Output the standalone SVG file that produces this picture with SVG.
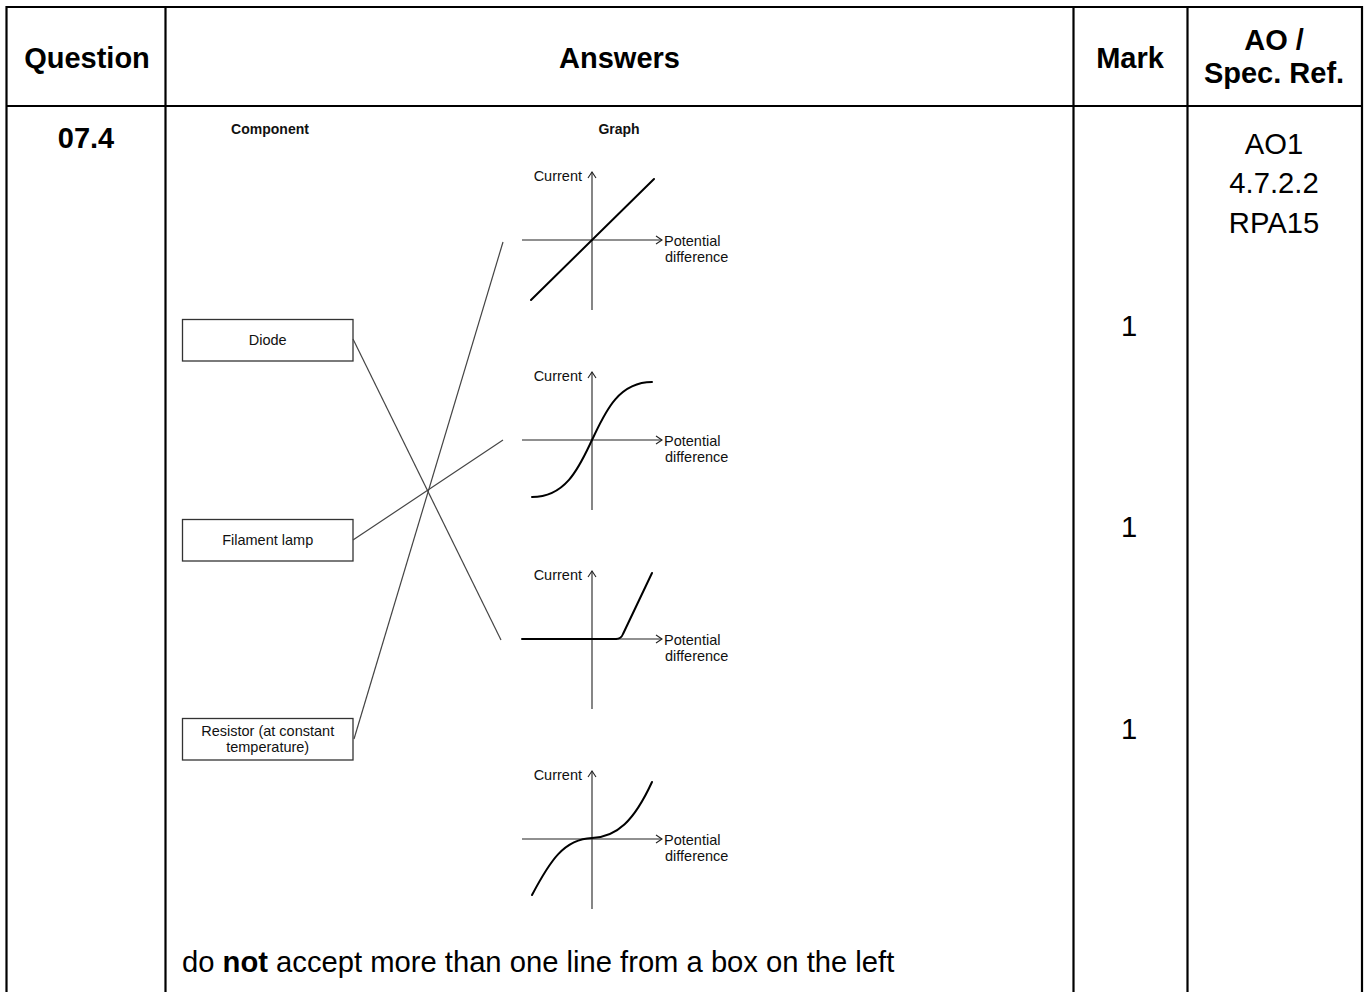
<svg xmlns="http://www.w3.org/2000/svg" width="1367" height="992" viewBox="0 0 1367 992">
<defs>
<style>
.grid{stroke:#000;stroke-width:2.2;fill:none}
.hd{font-family:"Liberation Sans",Arial,sans-serif;font-weight:bold;font-size:29px;fill:#000;text-anchor:middle}
.tx{font-family:"Liberation Sans",Arial,sans-serif;font-size:29.2px;fill:#000}
.sm{font-family:"Liberation Sans",Arial,sans-serif;font-size:14.5px;fill:#111}
.smb{font-family:"Liberation Sans",Arial,sans-serif;font-size:14px;font-weight:bold;fill:#111;text-anchor:middle}
.box{fill:#fff;stroke:#333;stroke-width:1.3}
.axis{stroke:#222;stroke-width:1.1;fill:none}
.curve{stroke:#000;stroke-width:2;fill:none;stroke-linecap:round}
.conn{stroke:#444;stroke-width:1.2;fill:none}
</style>
<g id="axes">
<line class="axis" x1="0" y1="70" x2="0" y2="-68"/>
<polyline class="axis" points="-4,-62 0,-68 4,-62"/>
<line class="axis" x1="-70" y1="0" x2="70" y2="0"/>
<polyline class="axis" points="64,-4 70,0 64,4"/>
<text class="sm" x="-10" y="-59" text-anchor="end">Current</text>
<text class="sm" x="72" y="6">Potential</text>
<text class="sm" x="73" y="22">difference</text>
</g>
</defs>
<rect width="1367" height="992" fill="#fff"/>
<g id="table">
<path class="grid" d="M6.5 992 V7 H1362 V992 M6.5 106 H1362 M165.5 7 V992 M1073.5 7 V992 M1187.5 7 V992"/>
<text class="hd" x="87" y="68">Question</text>
<text class="hd" x="619.5" y="68">Answers</text>
<text class="hd" x="1130" y="68">Mark</text>
<text class="hd" x="1274" y="50">AO /</text>
<text class="hd" x="1274" y="83">Spec. Ref.</text>
<text class="hd" x="86" y="148">07.4</text>
<text class="tx" x="1274" y="154" text-anchor="middle">AO1</text>
<text class="tx" x="1274" y="193" text-anchor="middle">4.7.2.2</text>
<text class="tx" x="1274" y="233" text-anchor="middle">RPA15</text>
<text class="tx" x="1129" y="336" text-anchor="middle">1</text>
<text class="tx" x="1129" y="537" text-anchor="middle">1</text>
<text class="tx" x="1129" y="739" text-anchor="middle">1</text>
<text class="tx" x="182" y="972">do <tspan font-weight="bold">not</tspan> accept more than one line from a box on the left</text>
</g>
<g id="headings">
<text class="smb" x="270" y="134">Component</text>
<text class="smb" x="619" y="134">Graph</text>
</g>
<g id="diode">
<rect class="box" x="182.5" y="319.5" width="170.5" height="41.5"/>
<text class="sm" x="267.7" y="345" text-anchor="middle">Diode</text>
</g>
<g id="filament">
<rect class="box" x="182.5" y="519.5" width="170.5" height="41.5"/>
<text class="sm" x="267.7" y="545" text-anchor="middle">Filament lamp</text>
</g>
<g id="resistor">
<rect class="box" x="182.5" y="718.5" width="170.5" height="41.5"/>
<text class="sm" x="267.7" y="736" text-anchor="middle">Resistor (at constant</text>
<text class="sm" x="267.7" y="752" text-anchor="middle">temperature)</text>
</g>
<g id="graph1" transform="translate(592,240)">
<use href="#axes"/>
<line class="curve" x1="-61" y1="60" x2="62" y2="-61" stroke-width="1.8"/>
</g>
<g id="graph2" transform="translate(592,440)">
<use href="#axes"/>
<path class="curve" d="M-60 57 C-25 57 -12 25 0 0 C12 -25 25 -58 60 -58"/>
</g>
<g id="graph3" transform="translate(592,639)">
<use href="#axes"/>
<path class="curve" d="M-70 0 L24 0" stroke-width="3"/>
<path class="curve" d="M24 0 Q29 0 31 -5 L60 -66"/>
</g>
<g id="graph4" transform="translate(592,839)">
<use href="#axes"/>
<path class="curve" d="M-60 56 C-42 22 -28 0 0 -1 C25 -2 42 -18 60 -57"/>
</g>
<g id="connectors">
<line class="conn" x1="353" y1="339" x2="501" y2="640"/>
<line class="conn" x1="353" y1="540" x2="503" y2="440"/>
<line class="conn" x1="354" y1="739" x2="503" y2="242"/>
</g>
</svg>
